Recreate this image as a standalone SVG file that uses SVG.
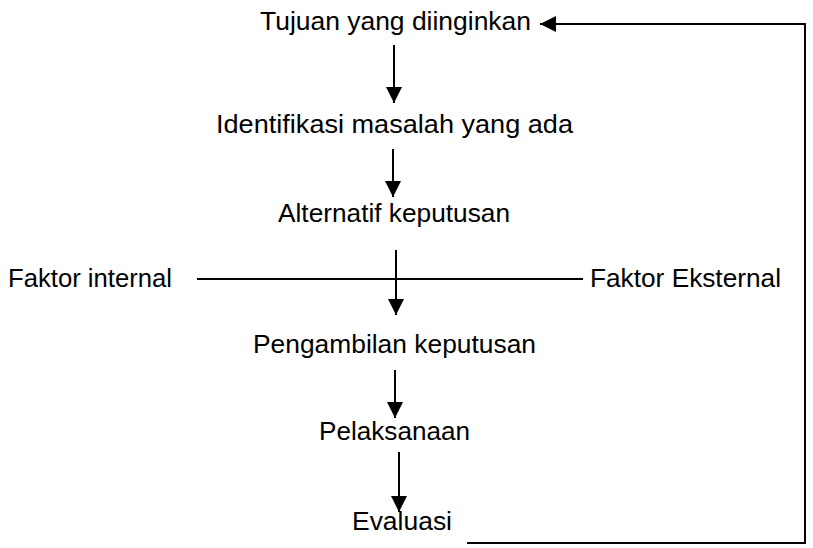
<svg xmlns="http://www.w3.org/2000/svg" width="813" height="548" viewBox="0 0 813 548">
<style>
.t{font-family:"Liberation Sans",Arial,sans-serif;font-size:26.5px;fill:#000;text-anchor:middle}
.f{font-family:"Liberation Sans",Arial,sans-serif;font-size:25px;fill:#000}
.c{stroke:#000;stroke-width:2;fill:none}
</style>
<defs>
<marker id="ah" markerUnits="userSpaceOnUse" markerWidth="16" markerHeight="16" refX="16" refY="8" orient="auto">
<path d="M0,0 L16,8 L0,16 Z" fill="#000"/>
</marker>
</defs>
<g id="n1"><text class="t" x="395.5" y="30" textLength="271" lengthAdjust="spacingAndGlyphs">Tujuan yang diinginkan</text></g>
<g id="n2"><text class="t" x="394.5" y="133" textLength="357" lengthAdjust="spacingAndGlyphs">Identifikasi masalah yang ada</text></g>
<g id="n3"><text class="t" x="394" y="222" textLength="232" lengthAdjust="spacingAndGlyphs">Alternatif keputusan</text></g>
<g id="n4"><text class="f" x="8" y="287" textLength="164" lengthAdjust="spacingAndGlyphs">Faktor internal</text></g>
<g id="n5"><text class="f" x="590" y="287" textLength="191" lengthAdjust="spacingAndGlyphs">Faktor Eksternal</text></g>
<g id="n6"><text class="t" x="394.5" y="353" textLength="283" lengthAdjust="spacingAndGlyphs">Pengambilan keputusan</text></g>
<g id="n7"><text class="t" x="394.5" y="440" textLength="151" lengthAdjust="spacingAndGlyphs">Pelaksanaan</text></g>
<g id="n8"><text class="t" x="402" y="530" textLength="100" lengthAdjust="spacingAndGlyphs">Evaluasi</text></g>
<g id="connectors">
<line class="c" x1="394" y1="45" x2="394" y2="103" marker-end="url(#ah)"/>
<line class="c" x1="393" y1="149" x2="393" y2="197" marker-end="url(#ah)"/>
<line class="c" x1="197" y1="279" x2="583" y2="279"/>
<line class="c" x1="396" y1="250" x2="396" y2="315" marker-end="url(#ah)"/>
<line class="c" x1="395" y1="370" x2="395" y2="418" marker-end="url(#ah)"/>
<line class="c" x1="399" y1="452" x2="399" y2="512" marker-end="url(#ah)"/>
<polyline class="c" points="467,543 805,543 805,24 540,24" marker-end="url(#ah)"/>
</g>
</svg>
